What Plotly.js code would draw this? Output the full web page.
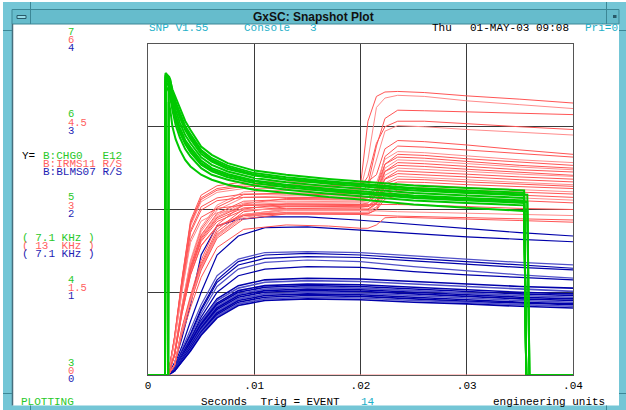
<!DOCTYPE html>
<html><head><meta charset="utf-8">
<script src="https://cdn.plot.ly/plotly-3.0.1.min.js"></script>
<style>html,body{margin:0;padding:0;background:#fff;overflow:hidden}#chart{width:626px;height:410px}</style>
</head><body><div id="chart"></div>
<script>
// ---------- tick labels ----------
const xTickVals = [0, 0.01, 0.02, 0.03, 0.04];
const xTickLabels = ['0', '.01', '.02', '.03', '.04'];
const greenTicks = ['3', '4', '5', '6', '7'];
const redTicks = ['0', '1.5', '3', '4.5', '6'];
const blueTicks = ['0', '1', '2', '3', '4'];

// ---------- B:IRMS11 (red, 0..6 R/S) ----------
const redX = [0, 0.0019, 0.0025, 0.0032, 0.0040, 0.0050, 0.0065, 0.0090, 0.0130, 0.0170, 0.0200, 0.0207, 0.0215, 0.0223, 0.0235, 0.0260, 0.0300, 0.0350, 0.0400];
const redCurves = [
  [0,0,0.69,1.73,2.76,3.21,3.38,3.45,3.45,3.44,3.43, 4.6,5.05,5.13,5.14,5.12,5.06,5.0,4.93],
  [0,0,0.68,1.69,2.7,3.14,3.31,3.38,3.38,3.37,3.36, 3.9,4.85,5.02,5.07,5.05,4.97,4.9,4.83],
  [0,0,0.4,1.25,2.05,2.64,3.04,3.27,3.3,3.3,3.29, 3.45,4.15,4.65,4.8,4.79,4.77,4.74,4.72],
  [0,0,0.68,1.71,2.74,3.18,3.35,3.42,3.42,3.41,3.4, 3.6,4.2,4.5,4.6,4.6,4.55,4.5,4.45],
  [0,0,0.39,1.24,2.02,2.6,2.99,3.22,3.25,3.25,3.24, 3.38,3.9,4.42,4.52,4.5,4.45,4.4,4.35],
  [0,0,0.7,1.75,2.8,3.26,3.43,3.5,3.5,3.49,3.48, 3.51,3.63,4.1,4.25,4.23,4.17,4.08,4.0],
  [0,0,0.19,0.86,1.44,2.08,2.72,3.1,3.2,3.2,3.19, 3.22,3.38,3.96,4.15,4.13,4.08,4.01,3.95],
  [0,0,0.4,1.27,2.08,2.68,3.08,3.32,3.35,3.35,3.34, 3.37,3.48,3.91,4.05,4.03,3.97,3.9,3.85],
  [0,0,0.19,0.84,1.4,2.02,2.64,3.01,3.1,3.1,3.09, 3.12,3.27,3.82,4.0,3.98,3.92,3.86,3.8],
  [0,0,0.66,1.64,2.62,3.05,3.21,3.28,3.28,3.27,3.26, 3.28,3.4,3.82,3.95,3.93,3.87,3.8,3.75],
  [0,0,0.38,1.2,1.95,2.52,2.9,3.12,3.15,3.15,3.14, 3.16,3.3,3.75,3.9,3.88,3.83,3.77,3.72],
  [0,0,0.18,0.82,1.37,1.98,2.59,2.96,3.05,3.05,3.04, 3.06,3.2,3.69,3.85,3.83,3.78,3.72,3.68],
  [0,0,0.64,1.61,2.58,2.99,3.16,3.22,3.22,3.21,3.2, 3.21,3.32,3.69,3.8,3.78,3.73,3.67,3.62],
  [0,0,0.37,1.19,1.93,2.5,2.87,3.09,3.12,3.12,3.11, 3.12,3.24,3.62,3.75,3.73,3.69,3.64,3.6],
  [0,0,0.18,0.81,1.35,1.95,2.55,2.91,3.0,3.0,2.99, 3.0,3.13,3.56,3.7,3.68,3.64,3.59,3.55],
  [0,0,0.38,1.21,1.97,2.54,2.93,3.15,3.18,3.18,3.17, 3.17,3.26,3.55,3.65,3.63,3.59,3.54,3.5],
  [0,0,0.18,0.8,1.34,1.94,2.53,2.89,2.98,2.98,2.97, 2.98,3.1,3.48,3.6,3.58,3.54,3.49,3.45],
  [0,0,0.62,1.54,2.46,2.86,3.02,3.08,3.08,3.07,3.06, 3.07,3.15,3.46,3.55,3.54,3.5,3.46,3.42],
  [0,0,0.36,1.15,1.87,2.42,2.78,2.99,3.02,3.02,3.01, 3.01,3.1,3.41,3.5,3.49,3.45,3.41,3.38],
  [0,0,0.18,0.8,1.33,1.92,2.51,2.86,2.95,2.95,2.94, 2.95,3.04,3.36,3.45,3.44,3.4,3.36,3.32],
  [0,0,0.37,1.16,1.9,2.45,2.82,3.03,3.06,3.06,3.05, 3.05,3.12,3.34,3.4,3.39,3.35,3.31,3.28],
  [0,0,0.18,0.79,1.31,1.9,2.48,2.83,2.92,2.92,2.91, 2.92,3.0,3.28,3.35,3.34,3.3,3.26,3.22],
  [0,0,0.6,1.5,2.4,2.79,2.94,3.0,3.0,2.99,2.98, 2.98,3.04,3.24,3.3,3.29,3.25,3.21,3.17],
  [0,0,0.35,1.12,1.82,2.35,2.7,2.91,2.94,2.94,2.93, 2.93,2.99,3.19,3.25,3.24,3.2,3.16,3.12],
  [0,0,0.37,1.18,1.92,2.48,2.85,3.07,3.1,3.1,3.09, 3.09,3.1,3.1,3.09,3.08,3.05,3.02,3.0],
  [0,0,0.18,0.81,1.35,1.95,2.55,2.91,3.0,3.0,2.99, 2.98,2.98,2.97,2.96,2.95,2.93,2.91,2.89],
  [0,0,0.35,1.11,1.81,2.34,2.69,2.89,2.92,2.92,2.91, 2.9,2.9,2.89,2.88,2.87,2.85,2.83,2.81],
  [0,0,0.16,0.73,1.22,1.77,2.31,2.64,2.72,2.7,2.66, 2.66,2.72,2.85,2.86,2.85,2.83,2.8,2.77],
  [0,0,0,0,0,0,0,0,0,0,0, 0,0,0,0,0,0,0,0]
];

// ---------- B:BLMS07 (blue, 0..4 R/S) ----------
const blueX = [0, 0.0019, 0.0025, 0.0032, 0.0040, 0.0050, 0.0065, 0.0085, 0.0110, 0.0150, 0.0200, 0.0250, 0.0300, 0.0350, 0.0400];
const blueCurves = [
  [0,0,0.15,0.45,0.85,1.45,1.8,1.88,1.91,1.91,1.87,1.82,1.77,1.72,1.68],
  [0,0,0.12,0.35,0.65,1.0,1.45,1.68,1.78,1.79,1.75,1.71,1.67,1.64,1.61],
  [0,0,0.1,0.3,0.55,0.85,1.2,1.4,1.48,1.49,1.48,1.44,1.4,1.36,1.33],
  [0,0,0.1,0.28,0.5,0.8,1.15,1.37,1.45,1.47,1.45,1.41,1.37,1.33,1.29],
  [0,0,0.09,0.27,0.48,0.78,1.12,1.33,1.41,1.43,1.42,1.38,1.34,1.3,1.27],
  [0,0,0.09,0.26,0.46,0.74,1.07,1.28,1.36,1.39,1.37,1.31,1.26,1.21,1.17],
  [0,0,0.08,0.24,0.43,0.7,1.0,1.2,1.28,1.31,1.3,1.25,1.21,1.18,1.15],
  [0,0,0.08,0.24,0.42,0.66,0.92,1.08,1.15,1.17,1.16,1.13,1.1,1.07,1.05],
  [0,0,0.08,0.23,0.4,0.64,0.9,1.05,1.12,1.14,1.13,1.1,1.07,1.04,1.01],
  [0,0,0.07,0.22,0.39,0.62,0.87,1.02,1.08,1.1,1.09,1.06,1.03,1.0,0.98],
  [0,0,0.07,0.21,0.38,0.6,0.85,1.0,1.06,1.08,1.07,1.04,1.01,0.98,0.96],
  [0,0,0.07,0.2,0.36,0.58,0.83,0.98,1.04,1.06,1.05,1.02,0.99,0.96,0.94],
  [0,0,0.06,0.2,0.35,0.57,0.81,0.96,1.02,1.04,1.03,1.0,0.97,0.94,0.92],
  [0,0,0.06,0.19,0.34,0.55,0.79,0.94,1.0,1.02,1.01,0.98,0.95,0.92,0.9],
  [0,0,0.06,0.18,0.33,0.54,0.77,0.92,0.98,1.0,0.99,0.96,0.93,0.9,0.88],
  [0,0,0.06,0.18,0.32,0.52,0.75,0.9,0.96,0.98,0.97,0.94,0.91,0.88,0.86],
  [0,0,0.05,0.17,0.31,0.51,0.73,0.88,0.94,0.96,0.95,0.92,0.89,0.87,0.85],
  [0,0,0.05,0.16,0.3,0.5,0.71,0.86,0.92,0.94,0.93,0.9,0.88,0.85,0.83],
  [0,0,0.05,0.16,0.29,0.48,0.69,0.84,0.9,0.92,0.91,0.88,0.86,0.83,0.81]
];

// ---------- B:CHG0 (green, 3..7 E12) ----------
const greenXA = [0, 0.0016, 0.00165, 0.0020, 0.0023, 0.0026, 0.0030, 0.0035, 0.0040, 0.0050, 0.0060, 0.0075, 0.0100, 0.0130, 0.0170, 0.0200, 0.0250, 0.0300, 0.0354, 0.0356, 0.0400];
const greenXB = [0, 0.0019, 0.00195, 0.0021, 0.0023, 0.0026, 0.0030, 0.0035, 0.0040, 0.0050, 0.0060, 0.0075, 0.0100, 0.0130, 0.0170, 0.0200, 0.0250, 0.0300, 0.0357, 0.0359, 0.0400];
const greenCurvesA = [
  [3,3,6.65,6.6,6.45,6.35,6.23,6.07,5.96,5.76,5.66,5.56,5.47,5.42,5.37,5.34,5.29,5.26,5.23,3,3],
  [3,3,6.63,6.58,6.42,6.3,6.17,6.01,5.91,5.72,5.62,5.53,5.44,5.39,5.34,5.31,5.26,5.23,5.2,3,3],
  [3,3,6.6,6.56,6.38,6.25,6.11,5.96,5.85,5.67,5.58,5.49,5.41,5.36,5.31,5.28,5.23,5.2,5.17,3,3],
  [3,3,6.62,6.55,6.35,6.2,6.05,5.9,5.8,5.63,5.54,5.46,5.38,5.33,5.28,5.25,5.2,5.17,5.14,3,3],
  [3,3,6.58,6.52,6.3,6.14,5.99,5.84,5.75,5.59,5.5,5.43,5.35,5.3,5.25,5.22,5.17,5.14,5.11,3,3],
  [3,3,6.55,6.48,6.25,6.08,5.93,5.79,5.69,5.54,5.46,5.39,5.32,5.27,5.22,5.19,5.14,5.11,5.08,3,3],
  [3,3,6.5,6.42,6.2,6.02,5.87,5.73,5.64,5.5,5.42,5.36,5.29,5.24,5.19,5.16,5.11,5.08,5.05,3,3]
];
const greenCurvesB = [
  [3,3,6.6,6.57,6.42,6.28,6.14,5.98,5.88,5.7,5.6,5.51,5.42,5.37,5.33,5.3,5.25,5.21,5.18,3,3],
  [3,3,6.56,6.5,6.28,6.11,5.96,5.81,5.72,5.56,5.48,5.41,5.34,5.29,5.24,5.2,5.15,5.12,5.09,3,3],
  [3,3,6.3,6.2,6.0,5.85,5.72,5.6,5.52,5.42,5.36,5.3,5.24,5.2,5.15,5.12,5.06,5.02,4.98,3,3]
];

// ---------- layout helpers (pixel geometry of the window) ----------
const L = 148, R = 573, T = 44, B = 375;
const px = v => (v - L) / (R - L);
const py = v => (B - v) / (B - T);
const MONO = 'Liberation Mono, DejaVu Sans Mono, monospace';
const GREEN = 'rgb(0,200,0)', RED = 'rgb(255,85,85)', BLUE = 'rgb(0,0,170)', CYAN = 'rgb(30,175,200)';
const GREEN_T = 'rgb(40,200,40)', RED_T = 'rgb(255,95,95)', BLUE_T = 'rgb(30,30,180)';

const traces = [];
redCurves.forEach((row, i) => traces.push({x: redX, y: row, yaxis: 'y2', type: 'scatter', mode: 'lines',
  line: {color: i % 3 === 1 ? 'rgb(255,140,140)' : RED, width: 1}, hoverinfo: 'skip'}));
blueCurves.forEach((row, i) => traces.push({x: blueX, y: row, yaxis: 'y', type: 'scatter', mode: 'lines',
  line: {color: i % 3 === 2 ? 'rgb(80,80,200)' : BLUE, width: i > 6 ? 1.6 : 1.2}, hoverinfo: 'skip'}));
greenCurvesA.forEach(row => traces.push({x: greenXA, y: row, yaxis: 'y3', type: 'scatter', mode: 'lines',
  line: {color: GREEN, width: 2}, hoverinfo: 'skip'}));
greenCurvesB.forEach(row => traces.push({x: greenXB, y: row, yaxis: 'y3', type: 'scatter', mode: 'lines',
  line: {color: GREEN, width: 2}, hoverinfo: 'skip'}));

const ann = [];
function txt(t, x, y, color, extra) {
  ann.push(Object.assign({text: t, xref: 'paper', yref: 'paper', x: px(x), y: py(y), xanchor: 'left', yanchor: 'middle',
    showarrow: false, font: {family: MONO, size: 11, color: color}, borderpad: 0}, extra || {}));
}
// y-axis stacked tick labels
for (let i = 0; i < 5; i++) {
  [[greenTicks[i], GREEN_T, 12.5], [redTicks[i], RED_T, 4], [blueTicks[i], BLUE_T, -4]].forEach(([t, c, s]) => {
    ann.push({text: t, xref: 'paper', yref: 'y', x: px(67), y: i, xanchor: 'left', yanchor: 'middle', yshift: s,
      showarrow: false, font: {family: MONO, size: 10.5, color: c}, borderpad: 0});
  });
}
txt('Y=', 21, 156, '#000');
txt('B:CHG0   E12', 42, 156, GREEN_T);
txt('B:IRMS11 R/S', 42, 164, RED_T);
txt('B:BLMS07 R/S', 42, 172, BLUE_T);
txt('( 7.1 KHz )', 21, 238, GREEN_T);
txt('( 13  KHz )', 21, 246, RED_T);
txt('( 7.1 KHz )', 21, 254, BLUE_T);
txt('PLOTTING', 20, 402, GREEN_T);
txt('SNP V1.55', 148, 28, CYAN);
txt('Console   3', 243, 28, CYAN);
txt('Thu', 431, 28, '#000');
txt('01-MAY-03 09:08', 469, 28, '#000');
txt('Pri=0', 584, 28, CYAN);
txt('Seconds  Trig = EVENT', 200, 402, '#000');
txt('14', 360, 402, CYAN);
txt('engineering units', 492, 402, '#000');
ann.push({text: '<b>GxSC: Snapshot Plot</b>', xref: 'paper', yref: 'paper', x: px(313), y: py(16.5), xanchor: 'center', yanchor: 'middle',
  showarrow: false, font: {family: 'Liberation Sans, Arial, sans-serif', size: 12, color: '#111'}});

// window frame
const FRAME = 'rgb(116,198,214)', BAR = 'rgb(102,188,204)', EDGE = 'rgb(60,135,150)';
const shapes = [];
function rect(x0, y0, x1, y1, fill, line) {
  shapes.push({type: 'rect', xref: 'paper', yref: 'paper', x0: px(x0), x1: px(x1), y0: py(y1), y1: py(y0),
    fillcolor: fill, line: {width: line ? 1 : 0, color: line || fill}});
}
function seg(x0, y0, x1, y1, color, w) {
  shapes.push({type: 'line', xref: 'paper', yref: 'paper', x0: px(x0), x1: px(x1), y0: py(y0), y1: py(y1),
    line: {color: color, width: w || 1}});
}
rect(3, 2, 626, 9.5, FRAME);
rect(3, 2, 12, 410, FRAME);
rect(619, 2, 626, 410, FRAME);
rect(3, 405.5, 626, 410, FRAME);
rect(12, 9.5, 619, 24, BAR, EDGE);
seg(30.5, 2, 30.5, 24, EDGE);
seg(606.5, 2, 606.5, 24, EDGE);
seg(12.5, 24, 12.5, 405.5, 'rgb(70,110,125)', 1.5);
seg(30.5, 405.5, 30.5, 410, EDGE);
seg(606.5, 405.5, 606.5, 410, EDGE);
seg(3, 393.5, 12, 393.5, EDGE);
seg(3, 30.5, 12, 30.5, EDGE);
seg(619, 30.5, 626, 30.5, EDGE);
seg(619, 393.5, 626, 393.5, EDGE);
rect(17, 15.5, 26, 18.5, 'rgb(150,220,232)', 'rgb(40,90,105)');
rect(613, 15, 616.5, 18, 'rgb(40,90,105)');

const layout = {
  width: 626, height: 410,
  margin: {l: L, r: 626 - R, t: T, b: 410 - B},
  paper_bgcolor: '#fff', plot_bgcolor: '#fff',
  showlegend: false, hovermode: false,
  xaxis: {range: [0, 0.04], tickvals: xTickVals, ticktext: xTickLabels, showgrid: true, gridcolor: '#3a3a3a', gridwidth: 1,
    zeroline: false, showline: true, mirror: true, linecolor: '#555', linewidth: 1, ticks: '',
    tickfont: {family: MONO, size: 11, color: '#000'}, fixedrange: true},
  yaxis: {range: [0, 4], dtick: 1, tick0: 0, showticklabels: false, showgrid: true, gridcolor: '#3a3a3a', gridwidth: 1,
    zeroline: false, showline: true, mirror: true, linecolor: '#555', linewidth: 1, ticks: '', fixedrange: true},
  yaxis2: {range: [0, 6], overlaying: 'y', anchor: 'x', visible: false, showgrid: false, zeroline: false, fixedrange: true},
  yaxis3: {range: [3, 7], overlaying: 'y', anchor: 'x', visible: false, showgrid: false, zeroline: false, fixedrange: true},
  annotations: ann,
  shapes: shapes
};
Plotly.newPlot('chart', traces, layout, {staticPlot: true, displayModeBar: false});
</script>
</body></html>
